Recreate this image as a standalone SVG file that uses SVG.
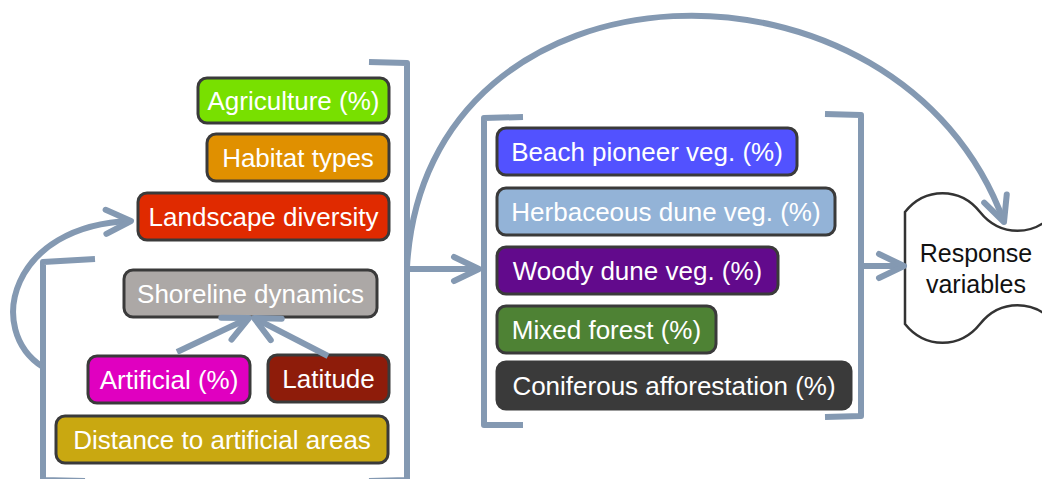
<svg xmlns="http://www.w3.org/2000/svg" width="1042" height="479" viewBox="0 0 1042 479">
<style>
.box{stroke:#3a3a3a;stroke-width:3}
.lbl{font-family:"Liberation Sans",Arial,sans-serif;font-size:26px;fill:#ffffff;text-anchor:middle}
.resp{font-family:"Liberation Sans",Arial,sans-serif;font-size:25px;fill:#111111;text-anchor:middle}
.conn{fill:none;stroke:#8499b2;stroke-width:6;stroke-linejoin:round}
.arr{marker-end:url(#chev)}
</style>
<defs>
<marker id="chev" markerUnits="userSpaceOnUse" viewBox="-30 -16 34 32" refX="0" refY="0" markerWidth="34" markerHeight="32" orient="auto" overflow="visible">
<path d="M-25,-12 L0,0 L-25,12" fill="none" stroke="#8499b2" stroke-width="6" stroke-linecap="round" stroke-linejoin="round"/>
</marker>
</defs>
<rect width="1042" height="479" fill="#ffffff"/>

<g id="brackets">
<path class="conn" d="M369,62 L407,63 L407,480 L369,481"/>
<path class="conn" d="M95,259 L43,262 L43,480 L85,481"/>
<path class="conn" d="M523,117 L484,118 L484,425 L523,425"/>
<path class="conn" d="M825,114 L861,115 L861,416 L825,417"/>
</g>

<g id="node-agriculture"><rect class="box" x="198" y="78" width="191" height="45" rx="9" fill="#78e000"/><text class="lbl" x="293.5" y="110">Agriculture (%)</text></g>
<g id="node-habitat"><rect class="box" x="207" y="134" width="182" height="47" rx="9" fill="#e09000"/><text class="lbl" x="298" y="167">Habitat types</text></g>
<g id="node-landscape"><rect class="box" x="138" y="193" width="251" height="47" rx="9" fill="#e02a00"/><text class="lbl" x="263.5" y="226">Landscape diversity</text></g>
<g id="node-shoreline"><rect class="box" x="124" y="270" width="253" height="47" rx="9" fill="#aca8a6"/><text class="lbl" x="250.5" y="303" fill="#f2f2f2">Shoreline dynamics</text></g>
<g id="node-artificial"><rect class="box" x="88" y="356" width="162" height="47" rx="9" fill="#e000c0"/><text class="lbl" x="169" y="389">Artificial (%)</text></g>
<g id="node-latitude"><rect class="box" x="268" y="355" width="121" height="47" rx="9" fill="#8e1c0a"/><text class="lbl" x="328.5" y="388">Latitude</text></g>
<g id="node-distance"><rect class="box" x="56" y="416" width="332" height="47" rx="9" fill="#c9a811"/><text class="lbl" x="222" y="449">Distance to artificial areas</text></g>

<g id="node-beach"><rect class="box" x="497" y="128" width="300" height="47" rx="9" fill="#5252ff"/><text class="lbl" x="647" y="161">Beach pioneer veg. (%)</text></g>
<g id="node-herbaceous"><rect class="box" x="497" y="188" width="338" height="47" rx="9" fill="#93b3d7"/><text class="lbl" x="666" y="221">Herbaceous dune veg. (%)</text></g>
<g id="node-woody"><rect class="box" x="497" y="247" width="281" height="47" rx="9" fill="#620a8c"/><text class="lbl" x="637.5" y="280">Woody dune veg. (%)</text></g>
<g id="node-mixed"><rect class="box" x="497" y="306" width="219" height="47" rx="9" fill="#4e8234"/><text class="lbl" x="606.5" y="339">Mixed forest (%)</text></g>
<g id="node-coniferous"><rect class="box" x="497" y="362" width="354" height="47" rx="9" fill="#3a3a3a"/><text class="lbl" x="674" y="395">Coniferous afforestation (%)</text></g>

<g id="node-response">
<path d="M905,212 C925,187 960,187 980,212 C1000,237 1035,237 1055,212 L1055,324 C1035,299 1000,299 980,324 C960,349 925,349 905,324 Z" fill="#ffffff" stroke="#333333" stroke-width="2.5" transform="translate(0,0)"/>
<text class="resp" x="976" y="262">Response</text>
<text class="resp" x="976" y="293">variables</text>
</g>

<g id="connectors">
<path class="conn arr" d="M407,269 L479,269"/>
<path class="conn arr" d="M861,266 L904,266"/>
<path class="conn arr" d="M407,267 C425,-55 900,-65 1004,222"/>
<path class="conn arr" d="M43,367 C-15,330 10,225 131,221"/>
<path class="conn arr" d="M177,352 L249,318"/>
<path class="conn arr" d="M328,356 L254,318"/>
</g>
</svg>
